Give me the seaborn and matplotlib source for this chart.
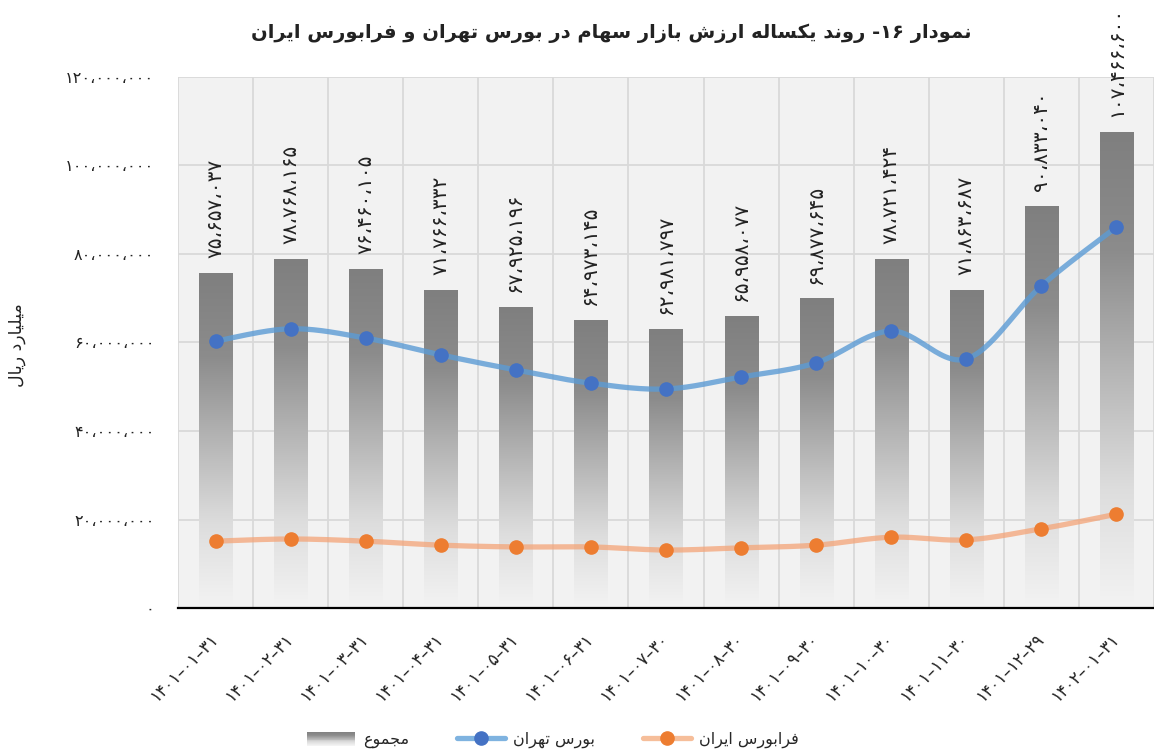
import numpy as np
import seaborn as sns
import matplotlib.pyplot as plt
from matplotlib.colors import LinearSegmentedColormap
from matplotlib.lines import Line2D
from matplotlib.patches import Rectangle
from matplotlib.legend_handler import HandlerBase

# data (billion rials)
dates = ['1401-01-31', '1401-02-31', '1401-03-31', '1401-04-31', '1401-05-31',
         '1401-06-31', '1401-07-30', '1401-08-30', '1401-09-30', '1401-10-30',
         '1401-11-30', '1401-12-29', '1402-01-31']
total = [75657037, 78768165, 76460105, 71766332, 67925196, 64973145, 62981797,
         65958077, 69877645, 78721424, 71863687, 90833040, 107466600]
tehran = [60.3e6, 63.1e6, 61.0e6, 57.2e6, 53.8e6, 50.8e6, 49.5e6,
          52.2e6, 55.4e6, 62.6e6, 56.3e6, 72.8e6, 86.1e6]
farabourse = [15.1e6, 15.6e6, 15.1e6, 14.2e6, 13.8e6, 13.8e6, 13.1e6,
              13.6e6, 14.2e6, 16.0e6, 15.4e6, 17.9e6, 21.2e6]
yticks = [0, 20e6, 40e6, 60e6, 80e6, 100e6, 120e6]

title = 'نمودار ۱۶- روند یکساله ارزش بازار سهام در بورس تهران و فرابورس ایران'
ylabel = 'میلیارد ریال'
leg_total = 'مجموع'
leg_tehran = 'بورس تهران'
leg_fara = 'فرابورس ایران'

# --- minimal persian shaping (matplotlib has no text shaping / bidi)
FORMS = {
    'ا': ('\uFE8D', '\uFE8E', None, None),
    'ب': ('\uFE8F', '\uFE90', '\uFE91', '\uFE92'),
    'ت': ('\uFE95', '\uFE96', '\uFE97', '\uFE98'),
    'ج': ('\uFE9D', '\uFE9E', '\uFE9F', '\uFEA0'),
    'د': ('\uFEA9', '\uFEAA', None, None),
    'ر': ('\uFEAD', '\uFEAE', None, None),
    'ز': ('\uFEAF', '\uFEB0', None, None),
    'س': ('\uFEB1', '\uFEB2', '\uFEB3', '\uFEB4'),
    'ش': ('\uFEB5', '\uFEB6', '\uFEB7', '\uFEB8'),
    'ع': ('\uFEC9', '\uFECA', '\uFECB', '\uFECC'),
    'ف': ('\uFED1', '\uFED2', '\uFED3', '\uFED4'),
    'ل': ('\uFEDD', '\uFEDE', '\uFEDF', '\uFEE0'),
    'م': ('\uFEE1', '\uFEE2', '\uFEE3', '\uFEE4'),
    'ن': ('\uFEE5', '\uFEE6', '\uFEE7', '\uFEE8'),
    'ه': ('\uFEE9', '\uFEEA', '\uFEEB', '\uFEEC'),
    'و': ('\uFEED', '\uFEEE', None, None),
    'ی': ('\uFBFC', '\uFBFD', '\uFBFE', '\uFBFF'),
    'ک': ('\uFB8E', '\uFB8F', '\uFB90', '\uFB91'),
}
FA_DIGITS = str.maketrans('0123456789', '۰۱۲۳۴۵۶۷۸۹')


def fa(text):
    out = []
    for i, ch in enumerate(text):
        if ch not in FORMS:
            out.append(ch)
            continue
        prev = text[i - 1] if i > 0 else ''
        nxt = text[i + 1] if i + 1 < len(text) else ''
        jp = prev in FORMS and FORMS[prev][2] is not None
        jn = nxt in FORMS and FORMS[ch][2] is not None
        iso, fin, ini, med = FORMS[ch]
        out.append(med if jp and jn else fin if jp else ini if jn else iso)
    s = ''.join(out)[::-1]
    # keep number runs left-to-right
    res, run = [], ''
    for ch in s:
        if ch in '۰۱۲۳۴۵۶۷۸۹0123456789':
            run += ch
        else:
            res.append(run[::-1])
            run = ''
            res.append(ch)
    res.append(run[::-1])
    return ''.join(res)


def fa_num(v):
    return f'{int(v):,}'.replace(',', '،').translate(FA_DIGITS)


sns.set_theme(style='white')
plt.rcParams['font.family'] = ['DejaVu Sans']

fig = plt.figure(figsize=(11.54, 7.53), dpi=100)
ax = fig.add_axes([178 / 1154, 1 - 608 / 753, 1 - 178 / 1154, (608 - 77) / 753])
ax.set_facecolor('#F2F2F2')

sns.barplot(x=dates, y=total, color='#808080', width=0.44, ax=ax, zorder=2)

# gradient fill for bars
cmap = LinearSegmentedColormap.from_list('g', ['#F3F3F3', '#DDDDDD', '#B5B5B5', '#8C8C8C', '#7F7F7F'])
grad = np.linspace(1, 0, 256).reshape(-1, 1)
for p in ax.patches:
    x0, w, h = p.get_x(), p.get_width(), p.get_height()
    ax.imshow(grad, extent=(x0, x0 + w, 0, h), aspect='auto', cmap=cmap,
              vmin=0, vmax=1, zorder=2, interpolation='bicubic')
    p.set_facecolor('none')
    p.set_edgecolor('none')


def smooth(ys, n=30):
    xs = np.arange(len(ys), dtype=float)
    ys = np.asarray(ys, dtype=float)
    px, py = [], []
    for i in range(len(ys) - 1):
        i0, i3 = max(i - 1, 0), min(i + 2, len(ys) - 1)
        c1x = xs[i] + (xs[i + 1] - xs[i0]) / 6
        c1y = ys[i] + (ys[i + 1] - ys[i0]) / 6
        c2x = xs[i + 1] - (xs[i3] - xs[i]) / 6
        c2y = ys[i + 1] - (ys[i3] - ys[i]) / 6
        t = np.linspace(0, 1, n)
        px.extend((1 - t) ** 3 * xs[i] + 3 * (1 - t) ** 2 * t * c1x + 3 * (1 - t) * t ** 2 * c2x + t ** 3 * xs[i + 1])
        py.extend((1 - t) ** 3 * ys[i] + 3 * (1 - t) ** 2 * t * c1y + 3 * (1 - t) * t ** 2 * c2y + t ** 3 * ys[i + 1])
    return px, py


x = np.arange(len(dates))
sx, sy = smooth(tehran)
ax.plot(sx, sy, color='#5B9BD5', alpha=0.8, lw=3.8, zorder=3, solid_capstyle='round')
ax.plot(x, tehran, 'o', color='#4472C4', ms=9.5, zorder=4)
sx, sy = smooth(farabourse)
ax.plot(sx, sy, color='#F4A477', alpha=0.75, lw=3.8, zorder=3, solid_capstyle='round')
ax.plot(x, farabourse, 'o', color='#ED7D31', ms=9.5, zorder=4)

# bar value labels
for i, v in enumerate(total):
    ax.annotate(fa_num(v), (i, v), xytext=(0, 11), textcoords='offset points',
                rotation=90, ha='center', va='bottom', fontsize=14.5,
                color='#222222', annotation_clip=False)

ax.set_xlim(-0.5, 12.5 - 4.4 / 75.4)
ax.set_ylim(0, 120e6)
ax.set_yticks(yticks)
ax.set_yticklabels([fa_num(v) for v in yticks], fontsize=11.6, color='#222222')
ax.set_xticks(x)
ax.set_xticklabels([d.translate(FA_DIGITS).replace('-', '–') for d in dates], rotation=45,
                   ha='right', va='center', rotation_mode='anchor', fontsize=12,
                   color='#222222')
ax.tick_params(axis='y', length=0, pad=17)
ax.tick_params(axis='x', length=0, pad=20)
ax.set_xticks(np.arange(-0.5, 13, 1), minor=True)
ax.grid(True, which='major', axis='y', color='#D9D9D9', lw=1.3, zorder=0)
ax.grid(True, which='minor', axis='x', color='#D9D9D9', lw=1.3, zorder=0)
ax.set_axisbelow(True)
for s in ['left', 'right', 'top']:
    ax.spines[s].set_visible(False)
ax.spines['bottom'].set_color('black')
ax.spines['bottom'].set_linewidth(1.6)
ax.set_xlabel('')
ax.set_ylabel('')

fig.text(17 / 1154, 1 - 345 / 753, fa(ylabel), rotation=90, ha='center', va='center',
         fontsize=12.5, color='#222222')
fig.text(611 / 1154, 1 - 33 / 753, fa(title), ha='center', va='center',
         fontsize=14, fontweight='bold', color='#222222')


class HandlerGradient(HandlerBase):
    def create_artists(self, legend, orig_handle, xdescent, ydescent, width, height, fontsize, trans):
        arts = []
        n = 16
        for k in range(n):
            c = cmap(1 - k / (n - 1))
            arts.append(Rectangle((-xdescent, -ydescent + height * (1 - (k + 1) / n)), width,
                                  height / n, facecolor=c, edgecolor='none', transform=trans))
        return arts


h_total = Rectangle((0, 0), 1, 1)
h_teh = Line2D([], [], color='#7FB3E0', lw=3.8, marker='o', ms=9.5,
               markerfacecolor='#4472C4', markeredgecolor='#4472C4')
h_fara = Line2D([], [], color='#F6BE9A', lw=3.8, marker='o', ms=9.5,
                markerfacecolor='#ED7D31', markeredgecolor='#ED7D31')
fig.legend([h_total, h_teh, h_fara], [fa(leg_total), fa(leg_tehran), fa(leg_fara)],
           handler_map={Rectangle: HandlerGradient()}, loc='center',
           bbox_to_anchor=(553 / 1154, 1 - 740 / 753), ncol=3, frameon=False,
           fontsize=11.5, handlelength=3.0, handleheight=1.0, columnspacing=3.0,
           handletextpad=0.5)

fig.savefig('out.png', dpi=100)
